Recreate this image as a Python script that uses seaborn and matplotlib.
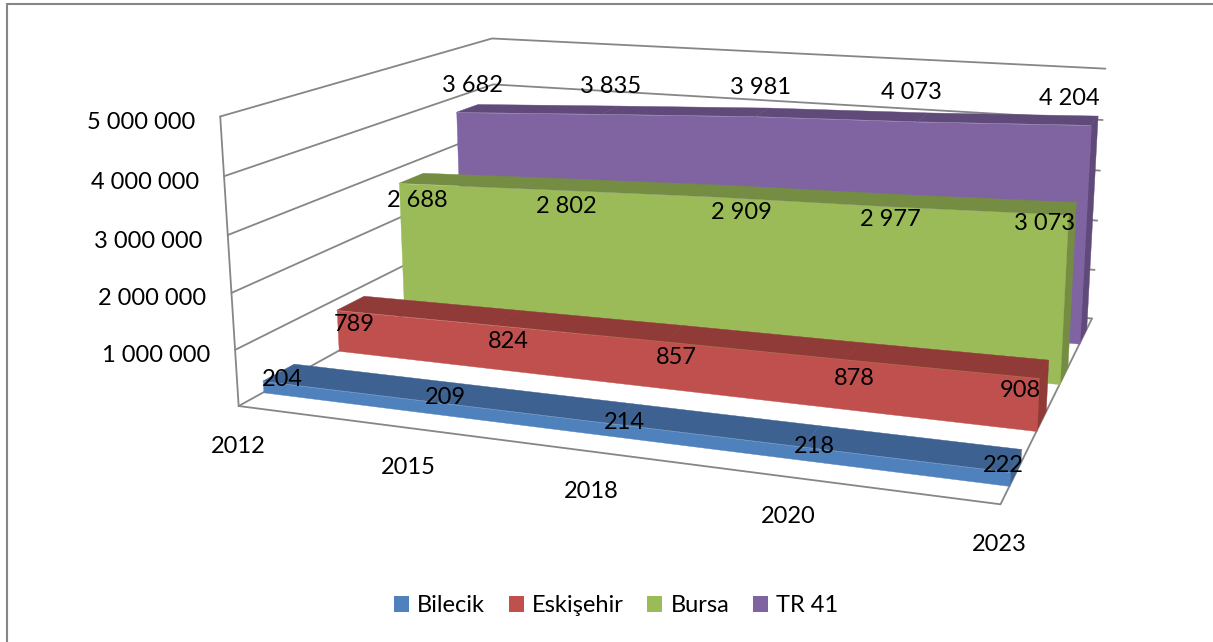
from __future__ import annotations

import matplotlib

matplotlib.use("Agg")
import matplotlib.pyplot as plt
import numpy as np
import seaborn as sns
from matplotlib.lines import Line2D
from matplotlib.patches import Patch
from matplotlib.transforms import offset_copy
from mpl_toolkits.mplot3d import proj3d
from mpl_toolkits.mplot3d.art3d import Poly3DCollection

W, H = 1213, 642
YEARS = ["2012", "2015", "2018", "2020", "2023"]
SERIES = ["Bilecik", "Eskişehir", "Bursa", "TR 41"]
BILECIK = [204, 209, 214, 218, 222]
ESKISEHIR = [789, 824, 857, 878, 908]
BURSA = [2688, 2802, 2909, 2977, 3073]
TR41 = [3682, 3835, 3981, 4073, 4204]
Z_TICKS = [1000000, 2000000, 3000000, 4000000, 5000000]
FRONT = ["#4F81BD", "#C0504D", "#9BBB59", "#8064A2"]
TOP = ["#3D6291", "#913B39", "#748D43", "#5F4A7A"]
GRID = "#868686"
FS = 17

# label placement, Excel moves these around a bit per point
LABEL_X = [
    [0.12, 1.09, 2.08, 3.06, 3.965],
    [0.11, 1.08, 2.07, 3.05, 3.91],
    [0.12, 1.10, 2.18, 3.04, 3.88],
    [-0.035, 0.94, 1.94, 2.89, 3.83],
]
LABEL_DEPTH = [0.3, 1.3, 2.3, 3.7]
LABEL_DZ = [
    [78000, 96000, 42000, 24000, 96000],
    [-240000, -276000, -276000, -312000, -240000],
    [-310000, -310000, -256000, -238000, -184000],
    [400000, 400000, 400000, 382000, 310000],
]
YEAR_X = [0.0, 0.995, 2, 3, 3.995]


def spaced(value: int) -> str:
    return f"{value:,}".replace(",", " ")


def label(ax, fig, x, y, z, text, dx=0, dy=0, ha="center"):
    # project by hand so the text sits in plain 2d axes coordinates
    xp, yp, _ = proj3d.proj_transform(x, y, z, ax.get_proj())
    trans = offset_copy(ax.transData, fig=fig, x=dx, y=dy, units="dots")
    ax.text2D(xp, yp, text, transform=trans, ha=ha, va="center", fontsize=FS, color="black", zorder=50, clip_on=False)


def main() -> None:
    sns.set_theme(style="white", font="Lato")
    palette = sns.color_palette(FRONT)
    fig = plt.figure(figsize=(W / 100, H / 100), dpi=100)
    ax = fig.add_subplot(projection="3d", computed_zorder=False)
    ax.set_xlim(0, 4)
    ax.set_ylim(0, 4)
    ax.set_zlim(0, 5000000)
    ax.set_axis_off()

    # camera fitted against the corners of the reference box
    size, cx, cy = 923.6121, 685.5431, 239.7017
    ax.view_init(13.638, -70.5209)
    ax.set_proj_type("persp", focal_length=0.3594)
    ax.set_box_aspect((1, 0.7797, 0.3843))
    ax.set_position([(cx - size / 2) / W, (H - cy - size / 2) / H, size / W, size / H])
    ax.apply_aspect()

    x = np.arange(len(YEARS))
    data = [BILECIK, ESKISEHIR, BURSA, TR41]

    for z in [0] + Z_TICKS:
        ax.plot([0, 0, 4], [0, 4, 4], [z, z, z], color=GRID, lw=1.3, zorder=1, clip_on=False)
    ax.plot([0, 0], [0, 0], [0, 5000000], color=GRID, lw=1.3, zorder=1, clip_on=False)
    ax.plot([0, 4, 4], [0, 0, 4], [0, 0, 0], color=GRID, lw=1.3, zorder=1, clip_on=False)

    zo = 10
    for s in [3, 2, 1, 0]:
        v = np.array(data[s]) * 1000.0
        d0, d1 = s + 0.3, s + 0.7
        tops = [[(x[i], d0, v[i]), (x[i + 1], d0, v[i + 1]), (x[i + 1], d1, v[i + 1]), (x[i], d1, v[i])] for i in range(4)]
        side = [(x[4], d0, 0), (x[4], d1, 0), (x[4], d1, v[4]), (x[4], d0, v[4])]
        front = [(x[0], d0, 0)] + [(x[i], d0, v[i]) for i in x] + [(x[4], d0, 0)]
        ax.add_collection3d(Poly3DCollection(tops + [side], facecolors=TOP[s], edgecolors=TOP[s], linewidths=0.3, zorder=zo))
        ax.add_collection3d(Poly3DCollection([front], facecolors=[palette[s]], edgecolors=[palette[s]], linewidths=0.3, zorder=zo + 1))
        zo += 2

    for s in range(4):
        for i in x:
            label(ax, fig, LABEL_X[s][i], LABEL_DEPTH[s], data[s][i] * 1000 + LABEL_DZ[s][i], spaced(data[s][i]))
    for z in Z_TICKS:
        label(ax, fig, 0, 0, z, spaced(z), dx=-25, dy=-6, ha="right")
    for i, year in zip(YEAR_X, YEARS):
        label(ax, fig, i, 0, 0, year, dy=-40)

    handles = [Patch(facecolor=c, edgecolor="none", label=name) for c, name in zip(palette, SERIES)]
    fig.legend(
        handles=handles,
        loc="center",
        bbox_to_anchor=(616 / W, 1 - 606 / H),
        ncol=4,
        frameon=False,
        fontsize=FS,
        handlelength=0.64,
        handleheight=0.64,
        handletextpad=0.34,
        columnspacing=1.0,
        labelcolor="black",
    )

    fig.add_artist(Line2D([7 / W, 7 / W], [0, 1 - 4 / H], color=GRID, lw=1.5))
    fig.add_artist(Line2D([7 / W, 1], [1 - 4 / H, 1 - 4 / H], color=GRID, lw=1.5))
    fig.savefig("out.png", dpi=100, facecolor="white")
    plt.close(fig)


if __name__ == "__main__":
    main()
